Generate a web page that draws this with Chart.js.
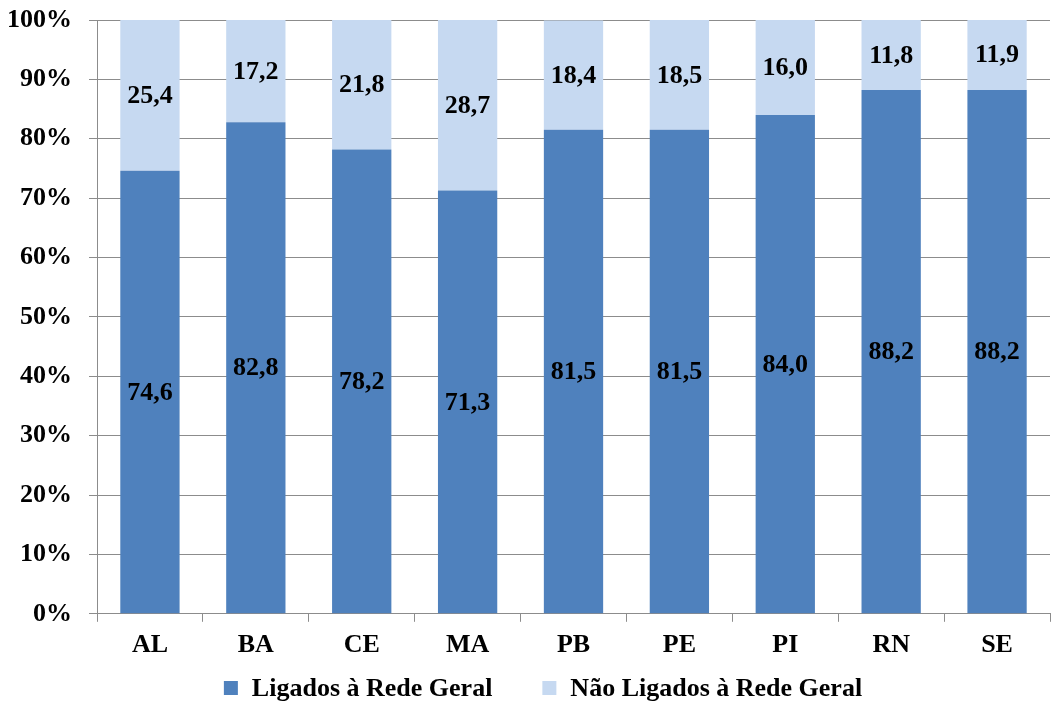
<!DOCTYPE html>
<html>
<head>
<meta charset="utf-8">
<script src="https://cdn.jsdelivr.net/npm/chart.js@4/dist/chart.umd.min.js"></script>
<style>
  html, body { margin: 0; padding: 0; background: #ffffff; }
  #wrap { width: 1052px; height: 704px; }
</style>
</head>
<body>
<div id="wrap"><canvas id="c" width="1052" height="704"></canvas></div>
<script>
const estados = ['AL', 'BA', 'CE', 'MA', 'PB', 'PE', 'PI', 'RN', 'SE'];
const ligados = [74.6, 82.8, 78.2, 71.3, 81.5, 81.5, 84.0, 88.2, 88.2];
const naoLigados = [25.4, 17.2, 21.8, 28.7, 18.4, 18.5, 16.0, 11.8, 11.9];
const serieNomes = ['Ligados à Rede Geral', 'Não Ligados à Rede Geral'];
const cores = ['#4f81bd', '#c6d9f1'];

const FONTE = '"Liberation Serif", "Times New Roman", serif';
const TAM = 26;
const GRADE = '#8c8c8c';

// Writes each value, with a decimal comma, in the middle of its segment
const rotulosPlugin = {
  id: 'rotulos',
  afterDatasetsDraw(chart) {
    const ctx = chart.ctx;
    ctx.save();
    ctx.font = 'bold ' + TAM + 'px ' + FONTE;
    ctx.fillStyle = '#000000';
    ctx.textAlign = 'center';
    ctx.textBaseline = 'middle';
    chart.data.datasets.forEach((ds, i) => {
      const meta = chart.getDatasetMeta(i);
      meta.data.forEach((bar, j) => {
        const p = bar.getProps(['x', 'y', 'base'], true);
        const yc = (p.y + p.base) / 2;
        ctx.fillText(ds.data[j].toFixed(1).replace('.', ','), p.x, yc + 1);
      });
    });
    ctx.restore();
  }
};

// Legend row under the axis: square swatch followed by the series name
const legendaPlugin = {
  id: 'legenda',
  afterDraw(chart) {
    const ctx = chart.ctx;
    ctx.save();
    ctx.font = 'bold ' + TAM + 'px ' + FONTE;
    ctx.textBaseline = 'middle';
    ctx.textAlign = 'left';
    const caixa = 14, vao = 14, entre = 50;
    const itens = chart.data.datasets.map(ds => ({
      texto: ds.label, cor: ds.backgroundColor, w: ctx.measureText(ds.label).width
    }));
    let total = 0;
    itens.forEach((it, k) => { total += caixa + vao + it.w + (k ? entre : 0); });
    let x = chart.width / 2 + 17 - total / 2;
    const y = 688;
    itens.forEach(it => {
      ctx.fillStyle = it.cor;
      ctx.fillRect(x, y - caixa / 2, caixa, caixa);
      ctx.fillStyle = '#000000';
      ctx.fillText(it.texto, x + caixa + vao, y + 1);
      x += caixa + vao + it.w + entre;
    });
    ctx.restore();
  }
};

new Chart(document.getElementById('c'), {
  type: 'bar',
  data: {
    labels: estados,
    datasets: [
      { label: serieNomes[0], data: ligados, backgroundColor: cores[0], borderWidth: 0,
        barPercentage: 0.56, categoryPercentage: 1.0 },
      { label: serieNomes[1], data: naoLigados, backgroundColor: cores[1], borderWidth: 0,
        barPercentage: 0.56, categoryPercentage: 1.0 }
    ]
  },
  options: {
    responsive: false,
    animation: false,
    devicePixelRatio: 1,
    layout: { padding: { left: 0, right: 2, top: 20, bottom: 35 } },
    plugins: {
      legend: { display: false },
      tooltip: { enabled: false }
    },
    scales: {
      x: {
        stacked: true,
        grid: { drawOnChartArea: false, drawTicks: true, tickLength: 8, color: GRADE },
        border: { color: GRADE, width: 1 },
        ticks: { font: { family: FONTE, size: TAM, weight: 'bold' }, color: '#000000', padding: 8 }
      },
      y: {
        stacked: true,
        min: 0,
        max: 100,
        afterFit(scale) { scale.width = 97; scale.paddingTop = 0; },
        grid: { color: GRADE, tickLength: 8 },
        border: { color: GRADE, width: 1 },
        ticks: {
          stepSize: 10,
          font: { family: FONTE, size: TAM, weight: 'bold' },
          color: '#000000',
          padding: 17,
          callback: v => v + '%'
        }
      }
    }
  },
  plugins: [rotulosPlugin, legendaPlugin]
});
</script>
</body>
</html>
